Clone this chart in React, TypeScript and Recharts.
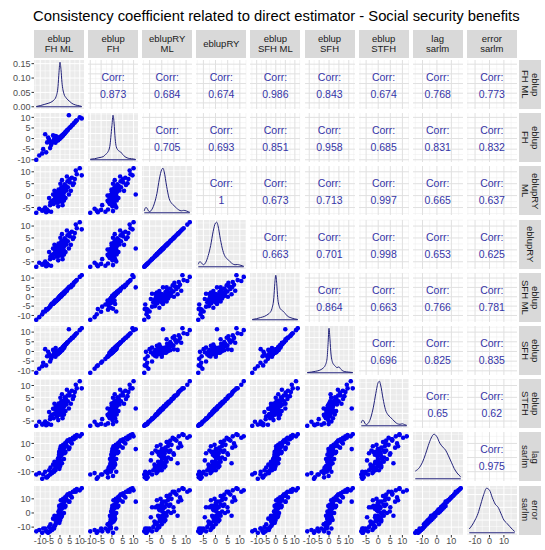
import React from 'react';
import {
  ScatterChart,
  Scatter,
  LineChart,
  Line,
  XAxis,
  YAxis,
  CartesianGrid,
  ReferenceLine,
} from 'recharts';

const FONT = '"Liberation Sans", Arial, Helvetica, sans-serif';

// strip labels, one entry per estimator
const varLabels = [
  ['eblup', 'FH ML'],
  ['eblup', 'FH'],
  ['eblupRY', 'ML'],
  ['eblupRY'],
  ['eblup', 'SFH ML'],
  ['eblup', 'SFH'],
  ['eblup', 'STFH'],
  ['lag', 'sarlm'],
  ['error', 'sarlm'],
];

// consistency coefficients per area
const eblupFhMl = [
  -0.5, 0.3, -1.2, 0.8, -0.2, 1.5, -1.8, 0.1, 2.2, -2.5,
  0.6, -0.8, 1.1, -1.5, 0.4, -0.3, 3.0, -3.2, 1.8, -2.0,
  0.9, -0.6, 2.6, -1.0, 0.0, 4.0, -4.0, 5.0, -5.0, 6.5,
  -6.0, 7.5, -7.0, 8.5, -8.5, 10.0, -10.5, 4.5, 3.5, -3.5,
  1.3, -2.8, 2.8, 0.2, -0.9, 5.5, -5.5, 3.8, -4.5, 6.0,
  0.7, -1.4, 2.0, -2.3, 1.0, -0.4, 11.0, -12.0, 8.0, -7.5,
  -1.6, 0.5, -2.2, 1.6, -3.0, 2.4, -0.1, 0.2, -4.8, 3.3,
  -0.7, 1.2, -6.5, 4.8, -1.1, 0.0, 7.0, -9.0, 2.0, -2.6,
];
const eblupFh = [
  -0.3, 0.5, -0.5, 1.0, 0.0, 1.6, -1.0, 0.3, 2.3, -1.2,
  0.8, -0.4, 1.4, 0.5, 0.7, -0.1, 3.2, -1.0, 2.0, 0.2,
  1.0, 0.0, 2.8, -0.6, 0.2, 4.2, -2.0, 5.2, -4.5, 6.5,
  0.5, 7.6, -6.5, 8.6, -5.0, 10.0, -8.0, 11.0, 3.8, 1.5,
  1.5, 0.8, 3.0, 0.5, 0.2, 5.6, -0.5, 4.0, -3.0, 6.2,
  1.2, 0.0, 2.2, -2.0, 1.3, 0.4, 9.5, -10.0, 8.2, 2.0,
  0.8, 0.6, 1.2, 1.8, -0.5, 2.5, 0.2, 0.4, -1.5, 3.5,
  -0.2, 1.1, -1.8, 5.0, -0.9, 0.1, 7.2, -7.0, 2.0, 0.0,
];
const eblupRyMl = [
  0.2, -0.5, -1.0, 1.2, 0.5, 2.0, -2.0, -0.3, 1.5, -1.5,
  0.8, -0.2, 3.0, -3.0, 2.5, -2.5, 4.0, -3.5, 0.0, 1.0,
  -1.2, 1.8, 2.8, -0.8, 0.4, 3.5, -2.2, 5.5, -4.0, 4.5,
  -6.5, 7.0, -7.0, 9.0, -6.0, 11.5, -5.5, 0.5, 8.0, 0.5,
  -4.0, 2.0, -1.0, 5.0, -4.5, 2.0, -1.0, 6.0, -6.8, 7.5,
  3.5, 1.5, -2.0, 0.0, 6.5, -1.8, 8.5, -7.2, 10.5, -5.0,
  -0.6, 1.6, 0.8, -0.5, -1.8, 4.8, -1.5, 0.9, -2.8, 2.2,
  2.6, -2.6, -5.8, 6.8, 0.1, -0.9, 5.2, -6.3, 3.8, -0.2,
];
const eblupRy = [
  0.3, -0.4, -1.0, 1.3, 0.5, 2.1, -1.9, -0.3, 1.6, -1.4,
  0.8, -0.1, 3.1, -2.9, 2.6, -2.4, 4.1, -3.4, 0.1, 1.1,
  -1.1, 1.9, 2.9, -0.7, 0.5, 3.6, -2.1, 5.6, -3.9, 4.6,
  -6.4, 7.1, -6.9, 9.1, -5.9, 11.6, -5.4, 0.6, 8.1, 0.6,
  -3.9, 2.1, -0.9, 5.1, -4.4, 2.1, -0.9, 6.1, -6.7, 7.6,
  3.6, 1.6, -1.9, 0.1, 6.6, -1.7, 8.6, -7.1, 10.6, -4.9,
  -0.5, 1.7, 0.9, -0.4, -1.7, 4.9, -1.4, 1.0, -2.7, 2.3,
  2.7, -2.5, -5.7, 6.9, 0.2, -0.8, 5.3, -6.2, 3.9, -0.1,
];
const eblupSfhMl = [
  -0.7, 0.5, -1.0, 0.6, 0.0, 1.8, -2.0, -0.1, 2.5, -2.2,
  0.9, -1.1, 1.0, -1.8, 0.2, -0.5, 3.3, -3.0, 1.5, -2.4,
  1.1, -0.3, 2.3, -1.3, 0.2, 4.4, -3.6, 5.4, -5.3, 6.1,
  -6.4, 7.9, -6.6, 8.9, -8.0, 10.6, -10.9, 5.0, 3.2, -3.9,
  1.6, -2.5, 3.1, 0.0, -1.2, 5.1, -5.9, 4.2, -4.1, 6.4,
  0.4, -1.7, 2.3, -2.0, 1.3, -0.6, 11.5, -12.3, 8.4, -7.9,
  -1.9, 0.8, -2.0, 1.3, -3.4, 2.8, 0.3, -0.1, -5.0, 3.6,
  -0.9, 1.5, -6.9, 5.2, -1.4, 0.3, 7.4, -9.4, 1.7, -2.9,
];
const eblupSfh = [
  -0.8, 0.9, -0.2, 0.5, 0.4, 2.1, -1.5, -0.1, 2.0, -0.8,
  1.3, -0.9, 1.0, 0.0, 1.1, 0.3, 3.8, -1.6, 1.6, -0.4,
  1.5, -0.5, 3.3, -0.2, -0.3, 4.9, -2.6, 5.9, -5.2, 7.1,
  -0.2, 8.3, -7.2, 9.4, -5.8, 11.0, -8.9, 11.5, 4.5, 0.8,
  2.0, 0.1, 3.6, 1.1, -0.4, 6.3, -1.3, 4.6, -3.8, 7.0,
  0.6, -0.6, 2.9, -2.7, 0.8, -0.2, 12.0, -11.0, 9.0, 1.2,
  0.3, 1.0, 1.8, 2.3, -1.1, 3.1, -0.4, 0.9, -2.2, 4.0,
  0.2, 0.7, -2.5, 5.6, -1.5, 0.5, 7.8, -7.6, 2.6, -0.6,
];
const eblupStfh = [
  0.0, -0.3, -1.3, 1.0, 0.7, 2.2, -2.2, -0.1, 1.3, -1.7,
  1.0, 0.1, 2.7, -3.2, 2.7, -2.3, 4.3, -3.8, -0.2, 1.2,
  -1.4, 1.6, 3.1, -1.0, 0.3, 3.3, -2.4, 5.8, -4.2, 4.3,
  -6.3, 7.3, -6.8, 8.8, -6.2, 11.8, -5.3, 0.3, 8.2, 0.2,
  -3.8, 2.3, -0.8, 4.8, -4.6, 2.3, -1.2, 5.8, -6.6, 7.8,
  3.3, 1.3, -2.2, 0.3, 6.3, -2.0, 8.8, -7.0, 10.3, -5.2,
  -0.8, 1.8, 0.6, -0.7, -2.0, 5.0, -1.2, 1.2, -3.0, 2.0,
  2.4, -2.8, -6.0, 7.0, -0.1, -0.6, 5.5, -6.5, 3.6, 0.1,
];
const lagSarlm = [
  2, 1, -4, 3, 4, 5, -6, -6, 7, -8,
  -4, -3, 4, -5, 8, -8, 9, -9, 6, -7,
  2, -1, 10, -4, 6, 12, -11, 13, -12, 14,
  -13, 15, -14, 16, -12, 15, -11, 6, 8, -5,
  3, -3, 4, 2, -2, 11, -9, 12, -10, 10,
  5, -6, 8, -9, -4, 4, 16.5, -12, 14, -10,
  -7, -2, -4, 9, -10, 3, -3, 1, -7, 11,
  0, 5, -14, 7, -1, 3, 13, -15, -1, -5,
];
const errorSarlm = [
  1, 2.5, -3, 4, 3, 6, -7, -5, 8, -9,
  -3, -4, 5, -6, 9, -7, 10, -10, 7, -6,
  3, 0, 11, -5, 5, 13, -12, 14, -13, 15,
  -14, 16, -13, 17, -11, 16, -12, 8, 9, -4,
  4, -2, 5, 1, -3, 12, -10, 13, -11, 11,
  6, -5, 9, -8, -2, 5, 17.5, -13, 15, -11,
  -6, -1, -5, 10, -11, 4, -2, 0, -8, 12,
  1, 4, -13, 8, -2, 2, 15, -14, 0, -4,
];

const columns = [eblupFhMl, eblupFh, eblupRyMl, eblupRy, eblupSfhMl, eblupSfh, eblupStfh, lagSarlm, errorSarlm];

// density curves on the diagonal (x grid + density)
const densXFhMl = [-12, -10, -8, -6, -4, -3, -2, -1, -0.5, 0, 0.5, 1, 2, 3, 4, 5, 6, 8, 10, 11];
const densFhMl = [0.001, 0.004, 0.008, 0.012, 0.018, 0.024, 0.035, 0.07, 0.12, 0.155, 0.13, 0.085, 0.045, 0.032, 0.024, 0.018, 0.012, 0.006, 0.003, 0.001];
const densXFh = [-10, -8, -6, -4, -3, -2, -1, 0, 0.5, 1, 1.5, 2, 3, 4, 5, 6, 8, 10, 11];
const densFh = [0.002, 0.004, 0.008, 0.012, 0.02, 0.028, 0.05, 0.13, 0.17, 0.14, 0.08, 0.05, 0.035, 0.03, 0.02, 0.012, 0.005, 0.003, 0.001];
const densXRyMl = [-7.2, -7, -6.5, -6, -5.5, -5, -4, -3, -2, -1, 0, 0.5, 1, 2, 3, 4, 5, 6, 7, 8, 9, 10, 11, 11.5];
const densRyMl = [0.008, 0.015, 0.022, 0.018, 0.008, 0.005, 0.015, 0.04, 0.08, 0.14, 0.18, 0.185, 0.17, 0.11, 0.06, 0.04, 0.03, 0.02, 0.012, 0.008, 0.01, 0.008, 0.004, 0.002];
const densXRy = [-7.1, -6.5, -6, -5, -4, -3, -2, -1, 0, 0.5, 1, 2, 3, 4, 5, 6, 7, 8, 9, 10, 11, 11.6];
const densRy = [0.01, 0.02, 0.018, 0.008, 0.018, 0.045, 0.085, 0.14, 0.175, 0.178, 0.165, 0.11, 0.065, 0.04, 0.03, 0.02, 0.012, 0.008, 0.009, 0.007, 0.004, 0.002];
const densXSfhMl = [-12.3, -10, -8, -6, -4, -3, -2, -1, -0.5, 0, 0.5, 1, 2, 3, 4, 5, 6, 8, 10, 11.5];
const densSfhMl = [0.001, 0.004, 0.008, 0.012, 0.02, 0.026, 0.04, 0.08, 0.13, 0.16, 0.13, 0.08, 0.045, 0.035, 0.03, 0.022, 0.014, 0.007, 0.003, 0.001];
const densXSfh = [-11, -9, -7, -5, -3, -2, -1, -0.5, 0, 0.5, 1, 2, 3, 4, 5, 6, 7, 8, 10, 12];
const densSfh = [0.001, 0.003, 0.006, 0.01, 0.02, 0.03, 0.06, 0.12, 0.19, 0.14, 0.08, 0.04, 0.03, 0.022, 0.025, 0.015, 0.008, 0.005, 0.003, 0.001];
const densXStfh = [-7, -6.5, -6, -5.5, -5, -4, -3, -2, -1, 0, 0.5, 1, 2, 3, 4, 5, 6, 7, 8, 9, 10, 11, 11.8];
const densStfh = [0.012, 0.022, 0.02, 0.01, 0.005, 0.012, 0.035, 0.075, 0.13, 0.175, 0.18, 0.165, 0.11, 0.065, 0.045, 0.035, 0.025, 0.015, 0.008, 0.006, 0.008, 0.004, 0.002];
const densXLag = [-15, -12, -10, -8, -6, -4, -2, 0, 2, 4, 6, 8, 10, 12, 14, 16.5];
const densLag = [0.012, 0.018, 0.026, 0.038, 0.052, 0.064, 0.07, 0.066, 0.056, 0.05, 0.045, 0.036, 0.026, 0.016, 0.009, 0.003];
const densXErr = [-14, -12, -10, -8, -6, -4, -2, 0, 2, 4, 6, 8, 10, 12, 14, 16, 17.5];
const densErr = [0.006, 0.012, 0.02, 0.03, 0.045, 0.06, 0.07, 0.067, 0.055, 0.045, 0.04, 0.03, 0.02, 0.015, 0.01, 0.005, 0.002];

const densX = [densXFhMl, densXFh, densXRyMl, densXRy, densXSfhMl, densXSfh, densXStfh, densXLag, densXErr];
const densY = [densFhMl, densFh, densRyMl, densRy, densSfhMl, densSfh, densStfh, densLag, densErr];

// axis breaks
const ticks10 = [-10, -5, 0, 5, 10];
const minor10 = [-12.5, -7.5, -2.5, 2.5, 7.5, 12.5];
const ticksRy = [-5, 0, 5, 10];
const minorRy = [-7.5, -2.5, 2.5, 7.5, 12.5];
const ticksSar = [-10, 0, 10];
const minorSar = [-15, -5, 5, 15];
const majorTicks = [ticks10, ticks10, ticksRy, ticksRy, ticks10, ticks10, ticksRy, ticksSar, ticksSar];
const minorTicks = [minor10, minor10, minorRy, minorRy, minor10, minor10, minorRy, minorSar, minorSar];
const densTicks = [0, 0.05, 0.1, 0.15];
const densMinor = [0.025, 0.075, 0.125, 0.175];
const densTicksLow = [0, 0.02, 0.04, 0.06];
const densMinorLow = [0.01, 0.03, 0.05, 0.07];

const corrLabels = [
  ['0.873', '0.684', '0.674', '0.986', '0.843', '0.674', '0.768', '0.773'],
  ['0.705', '0.693', '0.851', '0.958', '0.685', '0.831', '0.832'],
  ['1', '0.673', '0.713', '0.997', '0.665', '0.637'],
  ['0.663', '0.701', '0.998', '0.653', '0.625'],
  ['0.864', '0.663', '0.766', '0.781'],
  ['0.696', '0.825', '0.835'],
  ['0.65', '0.62'],
  ['0.975'],
];

const N = columns.length;
const X0 = 34;
const COL = 54.1;
const PW = 50;
const Y0 = 60;
const ROW = 53.2;
const PH = 49;
const AXIS_W = 34;
const AXIS_H = 15;
const PAD = 7;

const POINT = '#0000EE';
const DENS = '#22227A';
const CORR = '#3535A8';

const domainOf = (vals: number[]): [number, number] => {
  const lo = Math.min(...vals);
  const hi = Math.max(...vals);
  const pad = (hi - lo) * 0.05;
  return [lo - pad, hi + pad];
};
const inside = (vals: number[], d: [number, number]) => vals.filter((v) => v >= d[0] && v <= d[1]);

const tickStyle = { fontSize: 9, fill: '#4D4D4D', fontFamily: FONT };
const chartMargin = { top: PAD, right: PAD, bottom: PAD, left: PAD };

function grids(xMaj: number[], xMin: number[], yMaj: number[], yMin: number[], upper: boolean) {
  return [
    <CartesianGrid
      key="minor"
      fill={upper ? '#FFFFFF' : '#EBEBEB'}
      fillOpacity={1}
      stroke={upper ? '#EDEDED' : '#FFFFFF'}
      strokeWidth={0.5}
      verticalValues={xMin}
      horizontalValues={yMin}
    />,
    <CartesianGrid
      key="major"
      stroke={upper ? '#E0E0E0' : '#FFFFFF'}
      strokeWidth={1}
      verticalValues={xMaj}
      horizontalValues={yMaj}
    />,
  ];
}

function Panel({ i, j }: { i: number; j: number }) {
  const showY = j === 0;
  const showX = i === N - 1;
  const left = X0 + j * COL - (showY ? AXIS_W : 0) - PAD;
  const top = Y0 + i * ROW - PAD;
  const width = PW + (showY ? AXIS_W : 0) + 2 * PAD;
  const height = PH + (showX ? AXIS_H : 0) + 2 * PAD;
  const xDom = domainOf(columns[j]);
  const xMaj = majorTicks[j];
  const xMin = inside(minorTicks[j], xDom);

  const xAxis = (
    <XAxis
      type="number"
      dataKey="x"
      domain={xDom}
      allowDataOverflow
      hide={!showX}
      ticks={xMaj}
      interval={0}
      height={AXIS_H}
      tick={tickStyle}
      tickSize={2.5}
      tickMargin={0}
      tickLine={{ stroke: '#333333' }}
      axisLine={false}
    />
  );

  if (i === j) {
    const ys = densY[j];
    const maxD = Math.max(...ys);
    const yDom: [number, number] = [-maxD * 0.05, maxD * 1.05];
    const low = maxD < 0.1;
    const yMaj = low ? densTicksLow : densTicks;
    const yMin = inside(low ? densMinorLow : densMinor, yDom);
    const data = densX[j].map((x, k) => ({ x, d: ys[k] }));
    const xs = densX[j];
    return (
      <div style={{ position: 'absolute', left, top }}>
        <LineChart width={width} height={height} data={data} margin={chartMargin}>
          {grids(xMaj, xMin, yMaj, yMin, false)}
          {xAxis}
          <YAxis
            type="number"
            dataKey="d"
            domain={yDom}
            allowDataOverflow
            hide={!showY}
            ticks={densTicks}
            interval={0}
            width={AXIS_W}
            tick={tickStyle}
            tickSize={2.5}
            tickMargin={1}
            tickLine={{ stroke: '#333333' }}
            axisLine={false}
            tickFormatter={(v: number) => v.toFixed(2)}
          />
          <ReferenceLine
            segment={[
              { x: xs[0], y: 0 },
              { x: xs[xs.length - 1], y: 0 },
            ]}
            stroke={DENS}
            strokeWidth={1}
          />
          <Line type="monotone" dataKey="d" stroke={DENS} strokeWidth={1} dot={false} isAnimationActive={false} />
        </LineChart>
      </div>
    );
  }

  const yDom = domainOf(columns[i]);
  const yMaj = majorTicks[i];
  const yMin = inside(minorTicks[i], yDom);
  const pts = columns[j].map((x, k) => ({ x, y: columns[i][k] }));
  const upper = i < j;

  return (
    <div style={{ position: 'absolute', left, top }}>
      <ScatterChart width={width} height={height} margin={chartMargin}>
        {grids(xMaj, xMin, yMaj, yMin, upper)}
        {xAxis}
        <YAxis
          type="number"
          dataKey="y"
          domain={yDom}
          allowDataOverflow
          hide={!showY}
          ticks={yMaj}
          interval={0}
          width={AXIS_W}
          tick={tickStyle}
          tickSize={2.5}
          tickMargin={1}
          tickLine={{ stroke: '#333333' }}
          axisLine={false}
        />
        <Scatter
          data={pts}
          fill={POINT}
          isAnimationActive={false}
          shape={(p: any) => (upper ? <g /> : <circle cx={p.cx} cy={p.cy} r={2.3} fill={POINT} />)}
        />
      </ScatterChart>
      {upper && (
        <div
          style={{
            position: 'absolute',
            left: PAD,
            top: PAD,
            width: PW,
            height: PH,
            fontFamily: FONT,
            fontSize: 10.5,
            color: CORR,
            textAlign: 'center',
            pointerEvents: 'none',
          }}
        >
          <div style={{ position: 'absolute', left: 0, width: PW, top: 11 }}>Corr:</div>
          <div style={{ position: 'absolute', left: 0, width: PW, top: 28 }}>{corrLabels[i][j - i - 1]}</div>
        </div>
      )}
    </div>
  );
}

export default function App() {
  const cells: React.ReactNode[] = [];
  for (let i = 0; i < N; i++) {
    for (let j = 0; j < N; j++) {
      cells.push(<Panel key={`${i}-${j}`} i={i} j={j} />);
    }
  }
  return (
    <div
      style={{
        position: 'absolute',
        left: 0,
        top: 0,
        width: 545,
        height: 550,
        background: '#FFFFFF',
        fontFamily: FONT,
        overflow: 'hidden',
      }}
    >
      <div style={{ position: 'absolute', left: 33, top: 8, fontSize: 14.8, color: '#000000', whiteSpace: 'nowrap' }}>
        Consistency coefficient related to direct estimator - Social security benefits
      </div>
      {varLabels.map((lab, j) => (
        <div
          key={`top-${j}`}
          style={{
            position: 'absolute',
            left: X0 + j * COL,
            top: 30,
            width: PW,
            height: 28,
            background: '#D9D9D9',
            color: '#1A1A1A',
            fontSize: 9.5,
            lineHeight: '10.5px',
            display: 'flex',
            flexDirection: 'column',
            alignItems: 'center',
            justifyContent: 'center',
            textAlign: 'center',
          }}
        >
          {lab.map((t) => (
            <div key={t}>{t}</div>
          ))}
        </div>
      ))}
      {varLabels.map((lab, i) => (
        <div
          key={`right-${i}`}
          style={{
            position: 'absolute',
            left: X0 + (N - 1) * COL + PW + 2,
            top: Y0 + i * ROW,
            width: 22,
            height: PH,
            background: '#D9D9D9',
            color: '#1A1A1A',
            fontSize: 9.5,
            lineHeight: '10.5px',
            display: 'flex',
            alignItems: 'center',
            justifyContent: 'center',
          }}
        >
          <div style={{ writingMode: 'vertical-rl', textAlign: 'center' }}>
            {lab.map((t) => (
              <div key={t}>{t}</div>
            ))}
          </div>
        </div>
      ))}
      {cells}
    </div>
  );
}
